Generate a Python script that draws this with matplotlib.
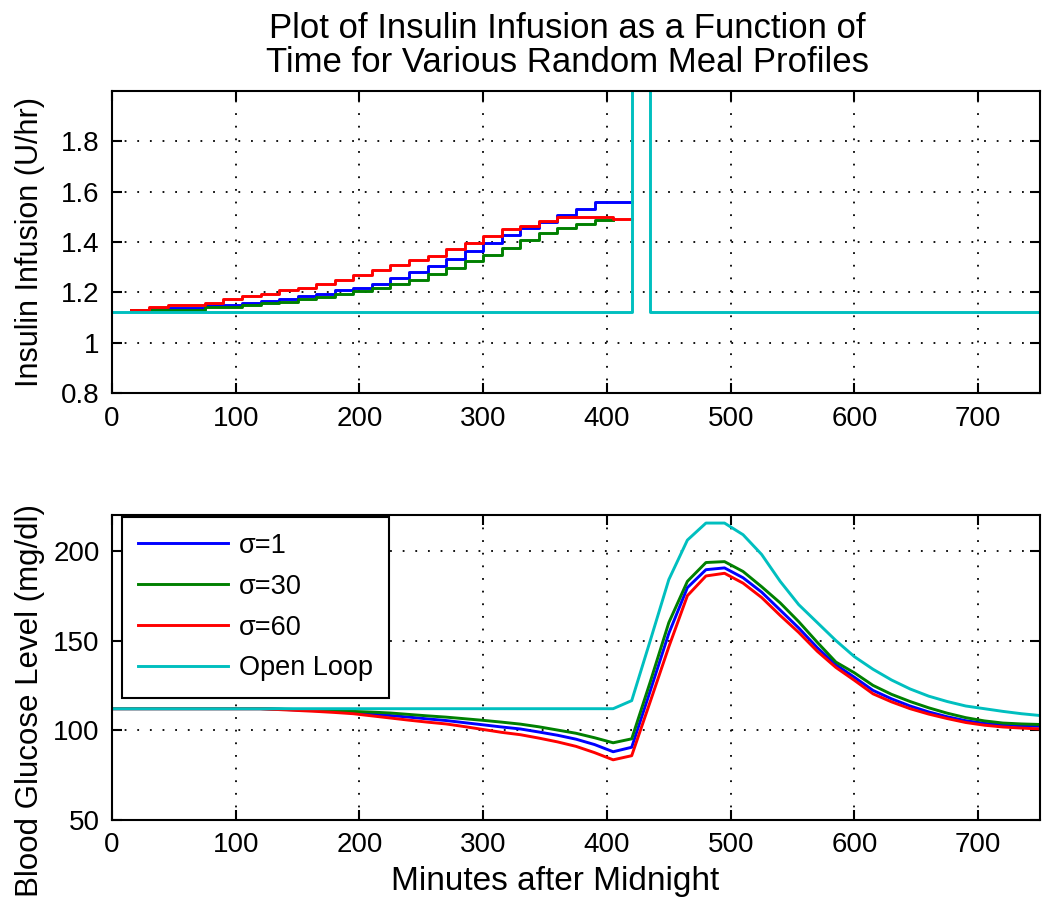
import matplotlib
matplotlib.use("Agg")
import matplotlib.pyplot as plt
import numpy as np

plt.rcParams['font.family'] = ['Liberation Sans', 'DejaVu Sans']

# ---------------- data ----------------
labels = ["σ=1", "σ=30", "σ=60", "Open Loop"]
colors = ["#0000ff", "#008000", "#ff0000", "#00bfbf"]

# Insulin infusion (step levels), 15-minute steps
ins_t_blue = [15, 30, 45, 60, 75, 90, 105, 120, 135, 150, 165, 180, 195, 210, 225, 240,
              255, 270, 285, 300, 315, 330, 345, 360, 375, 390, 405, 420]
ins_v_blue = [1.13, 1.135, 1.138, 1.138, 1.15, 1.15, 1.157, 1.166, 1.173, 1.186, 1.192, 1.209,
              1.218, 1.235, 1.257, 1.28, 1.306, 1.333, 1.366, 1.395, 1.427, 1.457, 1.48, 1.509,
              1.532, 1.558, 1.558, 1.558]
ins_t_green = [15, 30, 45, 60, 75, 90, 105, 120, 135, 150, 165, 180, 195, 210, 225, 240,
               255, 270, 285, 300, 315, 330, 345, 360, 375, 390, 405]
ins_v_green = [1.128, 1.128, 1.13, 1.13, 1.14, 1.14, 1.15, 1.157, 1.163, 1.173, 1.18, 1.192,
               1.205, 1.218, 1.235, 1.248, 1.273, 1.297, 1.325, 1.349, 1.378, 1.408, 1.434,
               1.457, 1.471, 1.486, 1.486]
ins_t_red = [15, 30, 45, 60, 75, 90, 105, 120, 135, 150, 165, 180, 195, 210, 225, 240,
             255, 270, 285, 300, 315, 330, 345, 360, 375, 390, 405, 420]
ins_v_red = [1.129, 1.14, 1.149, 1.149, 1.157, 1.173, 1.186, 1.192, 1.209, 1.218, 1.235, 1.251,
             1.267, 1.29, 1.31, 1.329, 1.345, 1.372, 1.397, 1.424, 1.45, 1.463, 1.484, 1.499,
             1.499, 1.499, 1.49, 1.49]
ins_t_open = [0, 420, 435, 750]
ins_v_open = [1.12, 5.0, 1.12, 1.12]

# Blood glucose, 15-minute samples
bg_t = list(range(0, 751, 15))
bg_blue = [112, 112, 112, 112, 112, 112, 112, 112, 112, 111.7, 111.3, 110.9, 110.4, 109.8,
           109.0, 108.2, 107.3, 106.3, 105.4, 104.2, 103.0, 101.8, 100.7, 99.0, 97.2, 95.0,
           92.0, 88.0, 90.5, 122, 154, 179.5, 189.5, 190.5, 185, 177, 167, 157, 146, 136.5,
           129.5, 122.2, 117.5, 113.5, 110.2, 107.5, 105.3, 103.8, 103.0, 102.5, 102.2]
bg_green = [112, 112, 112, 112, 112, 112, 112, 112, 112, 111.8, 111.5, 111.2, 110.9, 110.5,
            110.1, 109.6, 108.8, 108.0, 107.3, 106.4, 105.5, 104.5, 103.4, 101.9, 100.1, 98.3,
            95.8, 93.0, 95.2, 127, 160, 183, 193.5, 194, 188.5, 180, 171, 160.5, 149, 138,
            132, 125, 120, 116, 112.5, 109.5, 107, 105.2, 104, 103.5, 103.2]
bg_red = [112, 112, 112, 112, 112, 112, 112, 112, 112, 111.5, 111.0, 110.5, 109.9, 109.2,
          108.0, 106.8, 105.6, 104.5, 103.5, 102.0, 100.4, 98.8, 97.5, 95.6, 93.5, 91.0,
          87.5, 83.5, 85.8, 116, 146.5, 175, 186, 187.5, 182, 174, 164, 154.5, 144, 135,
          127.8, 120.3, 115.8, 112, 109, 106.5, 104.3, 102.8, 101.8, 101.2, 100.7]
bg_open = [112, 112, 112, 112, 112, 112, 112, 112, 112, 112, 112, 112, 112, 112, 112, 112,
           112, 112, 112, 112, 112, 112, 112, 112, 112, 112, 112, 112, 116.5, 150, 184, 206,
           215.5, 215.5, 209, 198, 183, 170, 160, 150, 141, 134, 128, 123, 119, 116, 113.5,
           112, 110.5, 109.2, 108.2]

x_ticks = [0, 100, 200, 300, 400, 500, 600, 700]
ins_yticks = [0.8, 1.0, 1.2, 1.4, 1.6, 1.8]
ins_yticklabels = ["0.8", "1", "1.2", "1.4", "1.6", "1.8"]
bg_yticks = [50, 100, 150, 200]
title_lines = ["Plot of Insulin Infusion as a Function of",
               "Time for Various Random Meal Profiles"]

# ---------------- figure ----------------
fig = plt.figure(figsize=(10.5, 9.11), dpi=100)
ax1 = fig.add_axes([0.1067, 0.5686, 0.8838, 0.3315])
ax2 = fig.add_axes([0.1067, 0.1000, 0.8838, 0.3347])

lw = 2.1
tick_fs = 20

def style(ax):
    ax.grid(True, color='black', linestyle=(0, (1, 6)), linewidth=1.3)
    ax.tick_params(direction='in', top=True, right=True, length=7, width=1.5,
                   labelsize=tick_fs, pad=9)
    for s in ax.spines.values():
        s.set_linewidth(1.5)
    ax.set_xlim(0, 750)
    ax.set_xticks(x_ticks)

series_ins = [(ins_t_blue, ins_v_blue), (ins_t_green, ins_v_green),
              (ins_t_red, ins_v_red), (ins_t_open, ins_v_open)]
for (t, v), c in zip(series_ins, colors):
    ax1.step(t, v, where='post', color=c, linewidth=lw)
style(ax1)
ax1.set_ylim(0.8, 2.0)
ax1.set_yticks(ins_yticks)
ax1.set_yticklabels(ins_yticklabels)
ax1.set_ylabel("Insulin Infusion (U/hr)", fontsize=22)
ax1.yaxis.set_label_coords(-0.072, 0.5)

fig.text(0.54, 1 - 38 / 911, title_lines[0], ha='center', va='baseline', fontsize=25)
fig.text(0.54, 1 - 72 / 911, title_lines[1], ha='center', va='baseline', fontsize=25)

for v, c, lab in zip([bg_blue, bg_green, bg_red, bg_open], colors, labels):
    ax2.plot(bg_t, v, color=c, linewidth=lw, label=lab)
style(ax2)
ax2.set_ylim(50, 220)
ax2.set_yticks(bg_yticks)
ax2.set_ylabel("Blood Glucose Level (mg/dl)", fontsize=22.5)
ax2.yaxis.set_label_coords(-0.072, 0.393)
ax2.set_xlabel("Minutes after Midnight", fontsize=24)
ax2.xaxis.set_label_coords(0.477, -0.152)
leg = ax2.legend(loc='upper left', bbox_to_anchor=(0.011, 0.995), borderaxespad=0,
                 fontsize=19.5, frameon=True, fancybox=False,
                 edgecolor='black', handlelength=3.3, labelspacing=0.55,
                 borderpad=0.6, handletextpad=0.4)
leg.get_frame().set_linewidth(1.5)
leg.get_frame().set_alpha(1)

fig.savefig("out.png", dpi=100)
